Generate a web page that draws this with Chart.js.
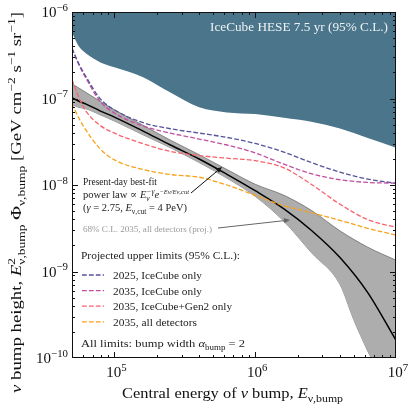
<!DOCTYPE html>
<html>
<head>
<meta charset="utf-8">
<script src="https://cdn.jsdelivr.net/npm/chart.js@4.4.0/dist/chart.umd.min.js"></script>
<style>
  html, body { margin: 0; padding: 0; background: #fff; }
  #wrap { width: 413px; height: 405px; position: relative; }
</style>
</head>
<body>
<div id="wrap"><canvas id="myChart"></canvas></div>
<script>
// central bump energy (GeV)
const energies = [5.0e4, 5.6e4, 6.3e4, 7.9e4, 1.0e5, 1.6e5, 2.5e5, 4.0e5, 6.3e5, 1.0e6, 1.6e6, 2.5e6, 4.0e6, 6.3e6, 1.0e7];

// IceCube HESE 7.5 yr excluded region (lower edge)
const heseLimit = [5.75e-7, 3.98e-7, 3.31e-7, 2.63e-7, 2.29e-7, 1.76e-7, 1.17e-7, 7.9e-8, 6.9e-8, 6.6e-8, 6.0e-8, 5.4e-8, 4.5e-8, 3.5e-8, 2.7e-8];

// present-day best-fit power law
const bestFit = [1.02e-7, 9.3e-8, 8.6e-8, 7.2e-8, 6.1e-8, 4.2e-8, 2.9e-8, 2.0e-8, 1.33e-8, 8.6e-9, 5.3e-9, 3.0e-9, 1.45e-9, 5.7e-10, 1.6e-10];

// 68% C.L. band, 2035 all detectors
const bandUpper = [1.48e-7, 1.32e-7, 1.17e-7, 9.3e-8, 7.4e-8, 4.9e-8, 3.3e-8, 2.24e-8, 1.51e-8, 1.02e-8, 7.6e-9, 5.1e-9, 2.95e-9, 1.91e-9, 1.35e-9];
const bandLowerE = [5.0e4, 5.6e4, 6.3e4, 7.9e4, 1.0e5, 1.6e5, 2.5e5, 4.0e5, 6.3e5, 1.0e6, 1.6e6, 2.5e6, 4.0e6, 5.0e6, 6.3e6, 7.9e6, 1.0e7];
const bandLower = [8.5e-8, 7.9e-8, 7.6e-8, 6.5e-8, 5.5e-8, 3.8e-8, 2.7e-8, 1.82e-8, 1.2e-8, 7.4e-9, 3.8e-9, 1.66e-9, 7.1e-10, 2.8e-10, 1.2e-10, 5.6e-11, 1.0e-11];

// projected upper limits (95% C.L.)
const lim2025IC = [3.8e-7, 2.51e-7, 1.78e-7, 1.0e-7, 7.4e-8, 5.25e-8, 4.47e-8, 3.98e-8, 3.55e-8, 3.02e-8, 2.4e-8, 1.82e-8, 1.41e-8, 1.17e-8, 1.05e-8];
const lim2035IC = [3.8e-7, 2.45e-7, 1.70e-7, 9.3e-8, 6.8e-8, 4.8e-8, 3.98e-8, 3.4e-8, 2.9e-8, 2.35e-8, 1.74e-8, 1.35e-8, 1.15e-8, 1.07e-8, 1.05e-8];
const lim2035Gen2 = [1.66e-7, 1.02e-7, 7.1e-8, 4.9e-8, 3.98e-8, 3.0e-8, 2.45e-8, 2.19e-8, 2.04e-8, 1.91e-8, 1.58e-8, 1.02e-8, 6.0e-9, 3.98e-9, 3.24e-9];
const lim2035All = [8.7e-8, 5.9e-8, 4.27e-8, 2.63e-8, 1.95e-8, 1.51e-8, 1.32e-8, 1.23e-8, 1.0e-8, 7.6e-9, 5.75e-9, 4.8e-9, 3.9e-9, 3.16e-9, 2.63e-9];

const limitLabels = ['2025, IceCube only', '2035, IceCube only', '2035, IceCube+Gen2 only', '2035, all detectors'];
const limitColors = ['#55539c', '#c04f9f', '#f7636c', '#f7a21a'];
const xTicks = [1e5, 1e6, 1e7];
const xTickExp = ['5', '6', '7'];
const yTicks = [1e-6, 1e-7, 1e-8, 1e-9, 1e-10];
const yTickExp = ['−6', '−7', '−8', '−9', '−10'];

const SERIF = '"Liberation Serif", "DejaVu Serif", serif';
const DASH = [4.8, 2.1];

function pts(xs, ys) { return ys.map((v, i) => ({x: xs[i], y: v})); }

// draws text with italic / super / subscript pieces; fitW stretches it to the wanted width
function drawRich(ctx, parts, x, y, size, align, fitW) {
    const font = (it, sz) => (it ? 'italic ' : '') + sz + 'px ' + SERIF;
    const smOf = p => Math.round(size * (p.s || 0.72) * 10) / 10;
    const wOf = p => {
        if (p.up !== undefined || p.dn !== undefined) {
            let w = 0;
            if (p.up) { ctx.font = font(p.iu, smOf(p)); w = Math.max(w, ctx.measureText(p.up).width); }
            if (p.dn) { ctx.font = font(p.id, smOf(p)); w = Math.max(w, ctx.measureText(p.dn).width); }
            return w;
        }
        ctx.font = font(p.i, size);
        return ctx.measureText(p.t).width;
    };
    const natural = parts.reduce((s, p) => s + wOf(p), 0);
    const sx = fitW ? fitW / natural : 1;
    const total = natural * sx;
    const x0 = align === 'center' ? x - total / 2 : align === 'right' ? x - total : x;
    ctx.save();
    ctx.translate(x0, y);
    ctx.scale(sx, 1);
    ctx.textAlign = 'left';
    ctx.textBaseline = 'alphabetic';
    let cx = 0;
    parts.forEach(p => {
        const w = wOf(p);
        if (p.up !== undefined || p.dn !== undefined) {
            if (p.up) { ctx.font = font(p.iu, smOf(p)); ctx.fillText(p.up, cx, -size * 0.42); }
            if (p.dn) { ctx.font = font(p.id, smOf(p)); ctx.fillText(p.dn, cx, size * 0.24); }
        } else {
            ctx.font = font(p.i, size);
            ctx.fillText(p.t, cx, 0);
        }
        cx += w;
    });
    ctx.restore();
    return total;
}

function arrow(ctx, x0, y0, x1, y1, color) {
    const a = Math.atan2(y1 - y0, x1 - x0);
    ctx.strokeStyle = color;
    ctx.fillStyle = color;
    ctx.lineWidth = 1;
    ctx.beginPath();
    ctx.moveTo(x0, y0);
    ctx.lineTo(x1 - 4 * Math.cos(a), y1 - 4 * Math.sin(a));
    ctx.stroke();
    ctx.beginPath();
    ctx.moveTo(x1, y1);
    ctx.lineTo(x1 - 6 * Math.cos(a) + 2.6 * Math.sin(a), y1 - 6 * Math.sin(a) - 2.6 * Math.cos(a));
    ctx.lineTo(x1 - 6 * Math.cos(a) - 2.6 * Math.sin(a), y1 - 6 * Math.sin(a) + 2.6 * Math.cos(a));
    ctx.closePath();
    ctx.fill();
}

const decor = {
    id: 'decor',
    afterDraw(chart) {
        const ctx = chart.ctx;
        const a = chart.chartArea;
        const xs = chart.scales.x, ys = chart.scales.y;
        ctx.save();

        // HESE label
        ctx.fillStyle = '#eef2f5';
        drawRich(ctx, [{t: 'IceCube HESE 7.5 yr (95% C.L.)'}], 210, 31, 13, 'left', 178);

        // frame + inward ticks
        ctx.strokeStyle = '#111';
        ctx.lineWidth = 1;
        ctx.strokeRect(Math.round(a.left) + 0.5, Math.round(a.top) + 0.5, Math.round(a.right - a.left) - 1, Math.round(a.bottom - a.top) - 1);
        ctx.beginPath();
        for (let d = 4; d <= 7; d++) {
            for (let m = 1; m <= 9; m++) {
                const v = m * Math.pow(10, d);
                if (v <= xs.min || v >= xs.max) continue;
                const px = Math.round(xs.getPixelForValue(v)) + 0.5;
                const len = m === 1 ? 6 : 3;
                ctx.moveTo(px, a.bottom); ctx.lineTo(px, a.bottom - len);
                ctx.moveTo(px, a.top); ctx.lineTo(px, a.top + len);
            }
        }
        for (let d = -10; d <= -6; d++) {
            for (let m = 1; m <= 9; m++) {
                const v = m * Math.pow(10, d);
                if (v <= ys.min || v >= ys.max) continue;
                const py = Math.round(ys.getPixelForValue(v)) + 0.5;
                const len = m === 1 ? 6 : 3;
                ctx.moveTo(a.left, py); ctx.lineTo(a.left + len, py);
                ctx.moveTo(a.right, py); ctx.lineTo(a.right - len, py);
            }
        }
        ctx.stroke();

        // tick labels
        ctx.fillStyle = '#111';
        xTicks.forEach((v, i) => {
            drawRich(ctx, [{t: '10'}, {up: xTickExp[i]}], xs.getPixelForValue(v) + 2, a.bottom + 19, 15, 'center');
        });
        yTicks.forEach((v, i) => {
            drawRich(ctx, [{t: '10'}, {up: yTickExp[i]}], a.left - 4, ys.getPixelForValue(v) + 5, 15, 'right');
        });

        // axis titles
        drawRich(ctx, [{t: 'Central energy of '}, {t: 'ν', i: 1}, {t: ' bump, '}, {t: 'E', i: 1}, {dn: 'ν,bump'}],
            122, 398, 15, 'left', 221);
        ctx.save();
        ctx.translate(21, 393);
        ctx.rotate(-Math.PI / 2);
        drawRich(ctx, [{t: 'ν', i: 1}, {t: ' bump height, '}, {t: 'E', i: 1}, {up: '2', dn: 'ν,bump'}, {t: ' Φ'}, {dn: 'ν,bump'},
            {t: ' [GeV cm'}, {up: '−2'}, {t: ' s'}, {up: '−1'}, {t: ' sr'}, {up: '−1'}, {t: ']'}], 0, 0, 15, 'left', 381);
        ctx.restore();

        // best-fit annotation
        ctx.fillStyle = '#222';
        drawRich(ctx, [{t: 'Present-day best-fit'}], 83, 185, 10.5, 'left', 74);
        drawRich(ctx, [{t: 'power law ∝ '}, {t: 'E', i: 1}, {up: '−γ', dn: 'ν', iu: 1, id: 1}, {t: 'e', i: 1},
            {up: '−Eν/Eν,cut', iu: 1, s: 0.62}], 83, 198, 10.5, 'left', 106);
        drawRich(ctx, [{t: '('}, {t: 'γ', i: 1}, {t: ' = 2.75, '}, {t: 'E', i: 1}, {dn: 'ν,cut'}, {t: ' = 4 PeV)'}],
            83, 211, 10.5, 'left', 104);
        arrow(ctx, 191, 193, 222, 167, '#111');

        ctx.fillStyle = '#999';
        drawRich(ctx, [{t: '68% C.L. 2035, all detectors (proj.)'}], 83, 232, 9, 'left', 129);
        arrow(ctx, 218, 228, 290, 220, '#666');

        // legend
        const legendW = [89, 89, 119, 84];
        ctx.fillStyle = '#222';
        drawRich(ctx, [{t: 'Projected upper limits (95% C.L.):'}], 81, 259, 11.3, 'left', 159);
        limitLabels.forEach((lab, i) => {
            const yy = 275 + i * 15.6;
            ctx.strokeStyle = limitColors[i];
            ctx.lineWidth = 1.3;
            ctx.setLineDash(DASH);
            ctx.beginPath();
            ctx.moveTo(82, yy); ctx.lineTo(104, yy);
            ctx.stroke();
            ctx.setLineDash([]);
            ctx.fillStyle = '#222';
            drawRich(ctx, [{t: lab}], 113, yy + 4, 11.3, 'left', legendW[i]);
        });
        drawRich(ctx, [{t: 'All limits: bump width '}, {t: 'α', i: 1}, {dn: 'bump'}, {t: ' = 2'}], 81, 347, 11.3, 'left', 164);

        ctx.restore();
    }
};

const limitSets = [lim2025IC, lim2035IC, lim2035Gen2, lim2035All].map((arr, i) => ({
    label: limitLabels[i],
    data: pts(energies, arr),
    borderColor: limitColors[i],
    borderWidth: 1.3,
    borderDash: DASH,
    fill: false,
    order: 1
}));

const ctx = document.getElementById('myChart');
new Chart(ctx, {
    type: 'line',
    data: {
        datasets: [
            ...limitSets,
            {label: 'best fit', data: pts(energies, bestFit), borderColor: '#000', borderWidth: 1.5, fill: false, order: 2},
            {label: 'band upper', data: pts(energies, bandUpper), borderColor: '#6f6f6f', borderWidth: 0.8,
                backgroundColor: '#adadad', fill: '+1', order: 3},
            {label: 'band lower', data: pts(bandLowerE, bandLower), borderColor: '#6f6f6f', borderWidth: 0.8, fill: false, order: 3},
            {label: 'HESE', data: pts(energies, heseLimit), borderWidth: 0, borderColor: 'rgba(0,0,0,0)',
                backgroundColor: '#4b758a', fill: 'end', order: 4}
        ]
    },
    options: {
        responsive: true,
        maintainAspectRatio: false,
        animation: false,
        layout: {padding: {left: 72, right: 17, top: 12, bottom: 47}},
        elements: {point: {radius: 0}, line: {cubicInterpolationMode: 'monotone'}},
        plugins: {legend: {display: false}, tooltip: {enabled: false}},
        scales: {
            x: {type: 'logarithmic', min: 5e4, max: 1e7, display: false},
            y: {type: 'logarithmic', min: 1e-10, max: 1e-6, display: false}
        }
    },
    plugins: [decor]
});
</script>
</body>
</html>
